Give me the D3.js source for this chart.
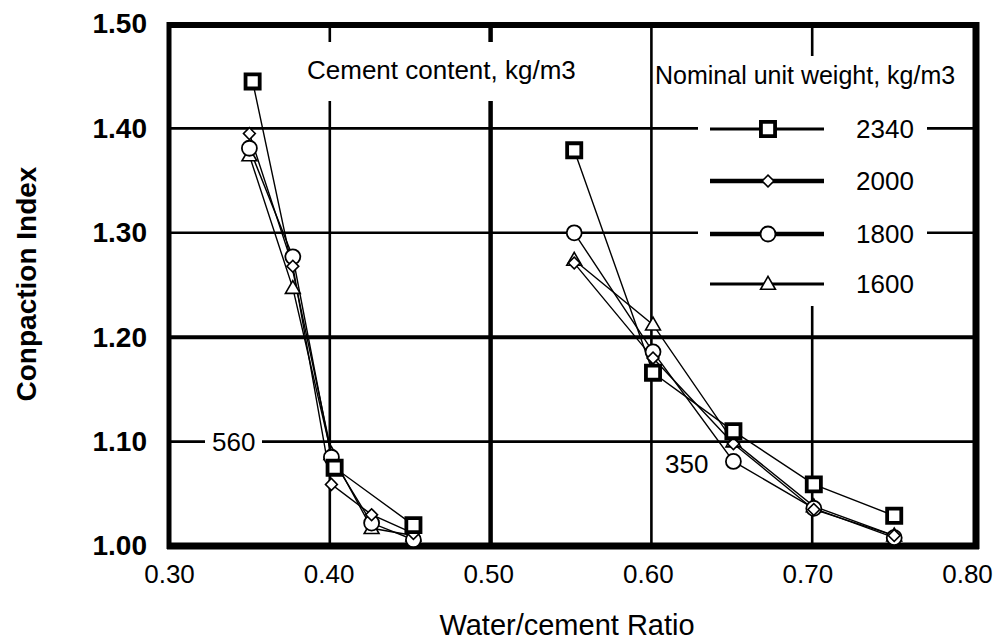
<!DOCTYPE html>
<html>
<head>
<meta charset="utf-8">
<script src="https://cdn.jsdelivr.net/npm/d3@7"></script>
<style>
  html, body { margin: 0; padding: 0; background: #fff; }
  svg { display: block; font-family: Arial, "Liberation Sans", sans-serif; }
</style>
</head>
<body>
<svg id="chart" width="995" height="641"></svg>
<script>
// Compaction index vs. water/cement ratio, two cement contents (560 and 350 kg/m3)
const xTicks = [0.30, 0.40, 0.50, 0.60, 0.70, 0.80];
const yTicks = [1.00, 1.10, 1.20, 1.30, 1.40, 1.50];
const weights = ["2340", "2000", "1800", "1600"];

// cement content 560 kg/m3
const wc560_2340 = [0.352, 0.403, 0.452];
const ci560_2340 = [1.445, 1.075, 1.020];
const wc560 = [0.350, 0.377, 0.401, 0.426, 0.452];
const ci560_2000 = [1.395, 1.268, 1.059, 1.030, 1.012];
const ci560_1800 = [1.381, 1.277, 1.085, 1.022, 1.006];
const ci560_1600 = [1.374, 1.247, 1.088, 1.017, 1.010];

// cement content 350 kg/m3
const wc350 = [0.552, 0.601, 0.651, 0.701, 0.751];
const ci350_2340 = [1.379, 1.166, 1.110, 1.059, 1.029];
const ci350_2000 = [1.271, 1.180, 1.098, 1.035, 1.010];
const ci350_1800 = [1.300, 1.186, 1.081, 1.036, 1.008];
const ci350_1600 = [1.274, 1.212, 1.100, 1.038, 1.010];

const series = [
  { key: "2340", shape: "square",   pts: [d3.zip(wc560_2340, ci560_2340), d3.zip(wc350, ci350_2340)] },
  { key: "2000", shape: "diamond",  pts: [d3.zip(wc560, ci560_2000), d3.zip(wc350, ci350_2000)] },
  { key: "1800", shape: "circle",   pts: [d3.zip(wc560, ci560_1800), d3.zip(wc350, ci350_1800)] },
  { key: "1600", shape: "triangle", pts: [d3.zip(wc560, ci560_1600), d3.zip(wc350, ci350_1600)] }
];

const svg = d3.select("#chart");
const x = d3.scaleLinear().domain([0.30, 0.80]).range([169, 973]);
const y = d3.scaleLinear().domain([1.00, 1.50]).range([546, 24]);

// grid
const grid = svg.append("g");
grid.selectAll("line.h").data(yTicks.slice(1, -1)).join("line")
  .attr("x1", x(0.30)).attr("x2", x(0.80))
  .attr("y1", d => y(d)).attr("y2", d => y(d))
  .attr("stroke", "#000").attr("stroke-width", d => Math.abs(d - 1.2) < 1e-9 ? 4 : 2.6);
grid.selectAll("line.v").data(xTicks.slice(1, -1)).join("line")
  .attr("y1", y(1.0)).attr("y2", y(1.5))
  .attr("x1", d => x(d)).attr("x2", d => x(d))
  .attr("stroke", "#000").attr("stroke-width", d => Math.abs(d - 0.5) < 1e-9 ? 4.5 : 2.6);

// white panels behind annotation text
const panels = svg.append("g").attr("fill", "#fff");
panels.append("rect").attr("x", 300).attr("y", 42).attr("width", 292).attr("height", 59);
panels.append("rect").attr("x", 653).attr("y", 56).attr("width", 316).attr("height", 40);
panels.append("rect").attr("x", 698).attr("y", 96).attr("width", 229).attr("height", 210);
panels.append("rect").attr("x", 205).attr("y", 428).attr("width", 57).attr("height", 28);

// frame
const frame = svg.append("g").attr("stroke", "#000");
frame.append("line").attr("x1", x(0.3) - 2).attr("x2", 979).attr("y1", y(1.5) + 1).attr("y2", y(1.5) + 1).attr("stroke-width", 6);
frame.append("line").attr("x1", x(0.3) - 2).attr("x2", 979).attr("y1", y(1.0)).attr("y2", y(1.0)).attr("stroke-width", 7);
frame.append("line").attr("x1", x(0.3)).attr("x2", x(0.3)).attr("y1", y(1.5) - 2).attr("y2", y(1.0) + 3).attr("stroke-width", 5);
frame.append("line").attr("x1", 976).attr("x2", 976).attr("y1", y(1.5) - 2).attr("y2", y(1.0) + 3).attr("stroke-width", 7);

// markers
function marker(g, shape, cx, cy) {
  if (shape === "square") {
    g.append("path").attr("d", d3.symbol(d3.symbolSquare, 200)())
      .attr("transform", `translate(${cx},${cy})`)
      .attr("fill", "#fff").attr("stroke", "#000").attr("stroke-width", 3.8);
  } else if (shape === "diamond") {
    g.append("path").attr("d", d3.symbol(d3.symbolSquare, 70)())
      .attr("transform", `translate(${cx},${cy}) rotate(45)`)
      .attr("fill", "#fff").attr("stroke", "#000").attr("stroke-width", 1.6);
  } else if (shape === "circle") {
    g.append("circle").attr("cx", cx).attr("cy", cy).attr("r", 7.5)
      .attr("fill", "#fff").attr("stroke", "#000").attr("stroke-width", 1.8);
  } else {
    g.append("path").attr("d", d3.symbol(d3.symbolTriangle, 95)())
      .attr("transform", `translate(${cx},${cy + 1})`)
      .attr("fill", "#fff").attr("stroke", "#000").attr("stroke-width", 1.6);
  }
}

const line = d3.line().x(d => x(d[0])).y(d => y(d[1]));
const plot = svg.append("g");
series.slice().reverse().forEach(s => {
  s.pts.forEach(p => {
    plot.append("path").attr("d", line(p)).attr("fill", "none")
      .attr("stroke", "#000").attr("stroke-width", 1.4);
  });
});
series.slice().reverse().forEach(s => {
  s.pts.forEach(p => p.forEach(d => marker(plot, s.shape, x(d[0]), y(d[1]))));
});

// axes
const yAxis = svg.append("g").attr("transform", `translate(${x(0.3)},0)`)
  .call(d3.axisLeft(y).tickValues(yTicks).tickSize(0).tickPadding(22).tickFormat(d3.format(".2f")));
yAxis.select(".domain").remove();
yAxis.selectAll("text").attr("font-size", 28).attr("font-weight", "bold")
  .attr("font-family", "Arial, 'Liberation Sans', sans-serif").attr("fill", "#000").attr("dy", "0.32em");

const xAxis = svg.append("g").attr("transform", `translate(0,${y(1.0)})`)
  .call(d3.axisBottom(x).tickValues(xTicks).tickSize(0).tickPadding(19).tickFormat(d3.format(".2f")));
xAxis.select(".domain").remove();
xAxis.selectAll("text").attr("font-size", 26)
  .attr("font-family", "Arial, 'Liberation Sans', sans-serif").attr("fill", "#000")
  .attr("dy", "0.71em").attr("dx", (d, i) => -1.2 * i);

// axis titles
svg.append("text").attr("transform", `translate(36,284) rotate(-90)`)
  .attr("text-anchor", "middle").attr("font-size", 28).attr("font-weight", "bold")
  .text("Conpaction Index");
svg.append("text").attr("x", 567).attr("y", 635)
  .attr("text-anchor", "middle").attr("font-size", 29)
  .text("Water/cement Ratio");

// annotations
const note = svg.append("g").attr("font-size", 26).attr("fill", "#000");
note.append("text").attr("x", 307).attr("y", 79).text("Cement content, kg/m3");
note.append("text").attr("x", 212).attr("y", 451).text("560");
note.append("text").attr("x", 665).attr("y", 473).text("350");

// legend
const lg = svg.append("g");
lg.append("text").attr("x", 655).attr("y", 84).attr("font-size", 25).text("Nominal unit weight, kg/m3");
const rowY = [129, 181, 234, 284];
const rowW = [3, 4.5, 4.5, 3];
series.forEach((s, i) => {
  lg.append("line").attr("x1", 710).attr("x2", 824).attr("y1", rowY[i]).attr("y2", rowY[i])
    .attr("stroke", "#000").attr("stroke-width", rowW[i]);
  marker(lg, s.shape, 768, rowY[i]);
  lg.append("text").attr("x", 856).attr("y", rowY[i] + 9).attr("font-size", 26).text(weights[i]);
});
</script>
</body>
</html>
